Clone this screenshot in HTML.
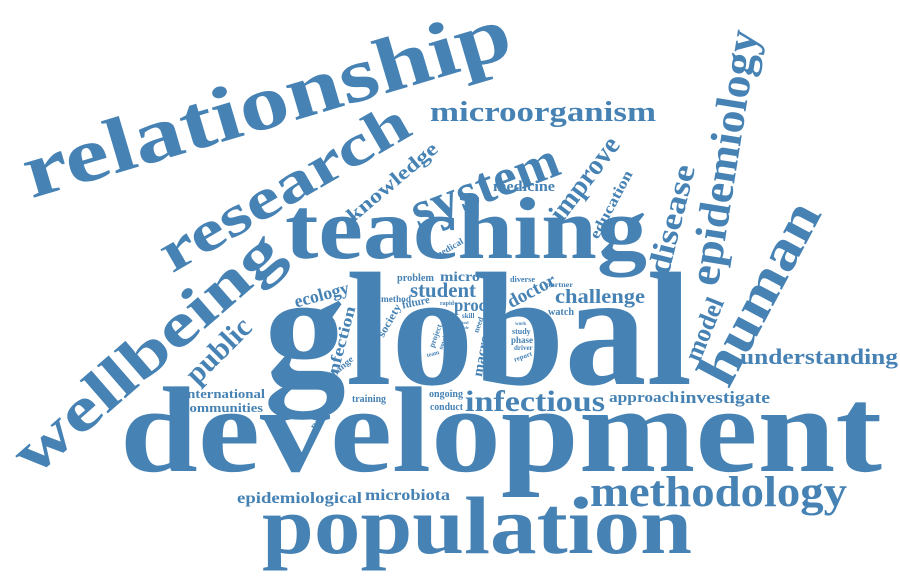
<!DOCTYPE html>
<html><head><meta charset="utf-8"><style>
html,body{margin:0;padding:0;background:#fff}
svg{display:block}
text{font-family:"Liberation Serif",serif;font-weight:bold;fill:#4682b4}
</style></head><body>
<svg width="900" height="576" viewBox="0 0 900 576">
<g>
<text x="264" y="384" font-size="162" textLength="428" lengthAdjust="spacingAndGlyphs">global</text>
<text x="120" y="471" font-size="122" textLength="762" lengthAdjust="spacingAndGlyphs">development</text>
<text x="262" y="553" font-size="82" textLength="430" lengthAdjust="spacingAndGlyphs">population</text>
<text x="285" y="258" font-size="88" textLength="362" lengthAdjust="spacingAndGlyphs">teaching</text>
<text x="590" y="506" font-size="43" textLength="257" lengthAdjust="spacingAndGlyphs">methodology</text>
<text x="430" y="121" font-size="29" textLength="226" lengthAdjust="spacingAndGlyphs">microorganism</text>
<text x="740" y="364" font-size="22" textLength="158" lengthAdjust="spacingAndGlyphs">understanding</text>
<text x="465" y="411" font-size="30" textLength="140" lengthAdjust="spacingAndGlyphs">infectious</text>
<text x="680" y="403" font-size="17" textLength="90" lengthAdjust="spacingAndGlyphs">investigate</text>
<text x="609" y="402" font-size="15" textLength="70" lengthAdjust="spacingAndGlyphs">approach</text>
<text x="365" y="500" font-size="16" textLength="85" lengthAdjust="spacingAndGlyphs">microbiota</text>
<text x="237" y="503" font-size="16" textLength="125" lengthAdjust="spacingAndGlyphs">epidemiological</text>
<text x="183" y="398" font-size="13" textLength="82" lengthAdjust="spacingAndGlyphs">international</text>
<text x="183" y="412" font-size="13" textLength="80" lengthAdjust="spacingAndGlyphs">communities</text>
<text x="493" y="191" font-size="15" textLength="62" lengthAdjust="spacingAndGlyphs">medicine</text>
<text x="555" y="303" font-size="20" textLength="90" lengthAdjust="spacingAndGlyphs">challenge</text>
<text x="410" y="297" font-size="21" textLength="66" lengthAdjust="spacingAndGlyphs">student</text>
<text x="454" y="311" font-size="18" textLength="32" lengthAdjust="spacingAndGlyphs">proc</text>
<text x="440" y="281" font-size="14" textLength="40" lengthAdjust="spacingAndGlyphs">micro</text>
<text x="397" y="281" font-size="10" textLength="37" lengthAdjust="spacingAndGlyphs">problem</text>
<text x="381" y="302" font-size="9" textLength="30" lengthAdjust="spacingAndGlyphs">method</text>
<text x="440" y="305" font-size="6">rapid</text>
<text x="462" y="318" font-size="7">skill</text>
<text x="352" y="402" font-size="10" textLength="34" lengthAdjust="spacingAndGlyphs">training</text>
<text x="429" y="397" font-size="11" textLength="34" lengthAdjust="spacingAndGlyphs">ongoing</text>
<text x="430" y="410" font-size="10" textLength="33" lengthAdjust="spacingAndGlyphs">conduct</text>
<text x="510" y="282" font-size="8" textLength="25" lengthAdjust="spacingAndGlyphs">diverse</text>
<text x="546" y="287" font-size="7" textLength="27" lengthAdjust="spacingAndGlyphs">partner</text>
<text x="548" y="315" font-size="10" textLength="26" lengthAdjust="spacingAndGlyphs">watch</text>
<text x="515" y="325" font-size="5">work</text>
<text x="512" y="334" font-size="8">study</text>
<text x="511" y="343" font-size="9">phase</text>
<text x="514" y="350" font-size="7">driver</text>
<text x="462" y="324" font-size="4">tool</text>
<text x="462" y="329" font-size="4">role</text>
</g>
<g>
<text text-anchor="middle" dy="0.25em" font-size="78" textLength="505" lengthAdjust="spacingAndGlyphs" transform="translate(268,108) rotate(-16.5)">relationship</text>
<text text-anchor="middle" dy="0.25em" font-size="58" textLength="280" lengthAdjust="spacingAndGlyphs" transform="translate(286,191) rotate(-30)">research</text>
<text text-anchor="middle" dy="0.25em" font-size="62" textLength="335" lengthAdjust="spacingAndGlyphs" transform="translate(150,356) rotate(-41)">wellbeing</text>
<text text-anchor="middle" dy="0.25em" font-size="52" textLength="155" lengthAdjust="spacingAndGlyphs" transform="translate(486,189) rotate(-21)">system</text>
<text text-anchor="middle" dy="0.25em" font-size="20" textLength="112" lengthAdjust="spacingAndGlyphs" transform="translate(393,183) rotate(-40)">knowledge</text>
<text text-anchor="middle" dy="0.25em" font-size="44" textLength="258" lengthAdjust="spacingAndGlyphs" transform="translate(727,158) rotate(-81)">epidemiology</text>
<text text-anchor="middle" dy="0.25em" font-size="32" textLength="112" lengthAdjust="spacingAndGlyphs" transform="translate(674,220) rotate(-76)">disease</text>
<text text-anchor="middle" dy="0.25em" font-size="56" textLength="200" lengthAdjust="spacingAndGlyphs" transform="translate(763,295) rotate(-62)">human</text>
<text text-anchor="middle" dy="0.25em" font-size="26" textLength="66" lengthAdjust="spacingAndGlyphs" transform="translate(706,330) rotate(-68)">model</text>
<text text-anchor="middle" dy="0.25em" font-size="28" textLength="98" lengthAdjust="spacingAndGlyphs" transform="translate(586,180) rotate(-53)">improve</text>
<text text-anchor="middle" dy="0.25em" font-size="15" textLength="75" lengthAdjust="spacingAndGlyphs" transform="translate(612,205) rotate(-62)">education</text>
<text text-anchor="middle" dy="0.25em" font-size="30" textLength="80" lengthAdjust="spacingAndGlyphs" transform="translate(220,352) rotate(-45)">public</text>
<text text-anchor="middle" dy="0.25em" font-size="18" textLength="56" lengthAdjust="spacingAndGlyphs" transform="translate(322,296) rotate(-15)">ecology</text>
<text text-anchor="middle" dy="0.25em" font-size="16" textLength="75" lengthAdjust="spacingAndGlyphs" transform="translate(342,343) rotate(-75)">infection</text>
<text text-anchor="middle" dy="0.25em" font-size="19" textLength="52" lengthAdjust="spacingAndGlyphs" transform="translate(532,292) rotate(-28)">doctor</text>
<text text-anchor="middle" dy="0.25em" font-size="11" textLength="36" lengthAdjust="spacingAndGlyphs" transform="translate(390,321) rotate(-60)">society</text>
<text text-anchor="middle" dy="0.25em" font-size="11" textLength="28" lengthAdjust="spacingAndGlyphs" transform="translate(416,303) rotate(-12)">future</text>
<text text-anchor="middle" dy="0.25em" font-size="8" textLength="24" lengthAdjust="spacingAndGlyphs" transform="translate(436,336) rotate(-70)">project</text>
<text text-anchor="middle" dy="0.25em" font-size="6" transform="translate(443,343) rotate(-70)">novel</text>
<text text-anchor="middle" dy="0.25em" font-size="8" transform="translate(479,325) rotate(-70)">need</text>
<text text-anchor="middle" dy="0.25em" font-size="14" textLength="42" lengthAdjust="spacingAndGlyphs" transform="translate(482,356) rotate(-80)">macro</text>
<text text-anchor="middle" dy="0.25em" font-size="6" transform="translate(433,354) rotate(-15)">team</text>
<text text-anchor="middle" dy="0.25em" font-size="9" textLength="30" lengthAdjust="spacingAndGlyphs" transform="translate(341,368) rotate(-40)">change</text>
<text text-anchor="middle" dy="0.25em" font-size="10" textLength="42" lengthAdjust="spacingAndGlyphs" transform="translate(326,412) rotate(-50)">processes</text>
<text text-anchor="middle" dy="0.25em" font-size="9" textLength="32" lengthAdjust="spacingAndGlyphs" transform="translate(449,249) rotate(-30)">medical</text>
<text text-anchor="middle" dy="0.25em" font-size="7" transform="translate(523,357) rotate(-20)">report</text>
</g>
</svg>
</body></html>
